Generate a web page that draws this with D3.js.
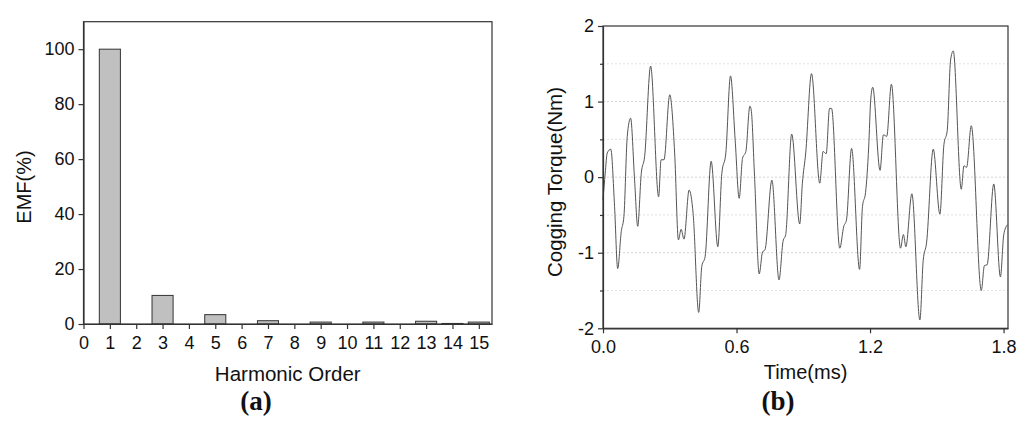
<!DOCTYPE html>
<html>
<head>
<meta charset="utf-8">
<script src="https://cdn.jsdelivr.net/npm/d3@7"></script>
<style>
  body { margin: 0; background: #fff; }
  svg text { font-family: "Liberation Sans", Arial, sans-serif; fill: #111; }
</style>
</head>
<body>
<svg id="fig" width="1024" height="427"></svg>
<script>
// (a) harmonic spectrum of the EMF
const harmonicOrders = [1, 2, 3, 4, 5, 6, 7, 8, 9, 10, 11, 12, 13, 14, 15];
const emfPercent = [100, 0, 10.4, 0, 3.4, 0, 1.2, 0, 0.7, 0, 0.7, 0, 1.0, 0.2, 0.7];
const harmonicTicks = d3.range(0, 16);
const emfTicks = [0, 20, 40, 60, 80, 100];

// (b) cogging torque waveform
const timeMs = [
  0.000, 0.010, 0.019, 0.035, 0.052, 0.066, 0.082, 0.094, 0.109, 0.124,
  0.142, 0.156, 0.172, 0.187, 0.214, 0.250, 0.261, 0.274, 0.300, 0.322,
  0.339, 0.351, 0.364, 0.387, 0.405, 0.430, 0.444, 0.459, 0.486, 0.516,
  0.534, 0.552, 0.573, 0.594, 0.612, 0.627, 0.642, 0.660, 0.666, 0.681,
  0.702, 0.717, 0.728, 0.759, 0.791, 0.809, 0.821, 0.848, 0.884, 0.896,
  0.911, 0.937, 0.974, 0.989, 1.003, 1.018, 1.027, 1.064, 1.082, 1.094,
  1.117, 1.153, 1.166, 1.180, 1.194, 1.203, 1.212, 1.245, 1.260, 1.275,
  1.296, 1.337, 1.350, 1.361, 1.388, 1.424, 1.439, 1.454, 1.484, 1.514,
  1.532, 1.547, 1.562, 1.574, 1.610, 1.622, 1.634, 1.655, 1.700, 1.714,
  1.726, 1.756, 1.786, 1.801, 1.817
];
const torqueNm = [
  -0.30, 0.05, 0.32, 0.37, -0.39, -1.21, -0.72, -0.52, 0.54, 0.78,
  -0.04, -0.65, 0.05, 0.27, 1.47, -0.26, 0.23, 0.23, 1.09, 0.32,
  -0.83, -0.69, -0.82, -0.17, -0.48, -1.79, -1.18, -1.05, 0.21, -0.92,
  0.05, 0.32, 1.34, 0.49, -0.28, 0.25, 0.34, 0.94, 0.89, 0.01,
  -1.28, -0.99, -0.96, -0.04, -1.36, -0.85, -0.76, 0.57, -0.62, -0.08,
  0.32, 1.37, -0.08, 0.34, 0.31, 0.91, 0.91, -0.94, -0.65, -0.57,
  0.38, -1.22, -0.39, -0.20, 0.40, 1.02, 1.19, 0.09, 0.56, 0.54,
  1.23, -0.94, -0.76, -0.92, -0.22, -1.89, -1.10, -0.87, 0.37, -0.49,
  0.43, 0.62, 1.55, 1.67, -0.16, 0.15, 0.13, 0.68, -1.50, -1.17,
  -1.16, -0.09, -1.32, -0.76, -0.63
];
const timeTicks = [0, 0.6, 1.2, 1.8];
const torqueTicks = [-2, -1, 0, 1, 2];
const torqueMinorTicks = [-1.5, -0.5, 0.5, 1.5];
const torqueGrid = [-1.5, -1, -0.5, 0, 0.5, 1, 1.5];

const svg = d3.select("#fig");

// ---------- chart (a) ----------
const a = { left: 83.5, right: 492, top: 21.7, bottom: 324 };

const xA = d3.scaleLinear().domain([0, 15.5]).range([a.left, a.right]);
const yA = d3.scaleLinear().domain([0, 110]).range([a.bottom, a.top]);

const gA = svg.append("g");

const barData = harmonicOrders.map((h, i) => ({ h, v: emfPercent[i] })).filter(d => d.v > 0);
const barW = xA(0.8) - xA(0);

gA.selectAll("rect.bar")
  .data(barData)
  .enter()
  .append("rect")
  .attr("class", "bar")
  .attr("x", d => xA(d.h) - barW / 2)
  .attr("y", d => yA(d.v))
  .attr("width", barW)
  .attr("height", d => yA(0) - yA(d.v))
  .attr("fill", "#c0c0c0")
  .attr("stroke", "#333")
  .attr("stroke-width", 1);

// frame
gA.append("rect")
  .attr("x", a.left)
  .attr("y", a.top)
  .attr("width", a.right - a.left)
  .attr("height", a.bottom - a.top)
  .attr("fill", "none")
  .attr("stroke", "#333")
  .attr("stroke-width", 1.2);

const xAxisA = gA.append("g")
  .attr("transform", `translate(0,${a.bottom})`)
  .call(d3.axisBottom(xA).tickValues(harmonicTicks).tickSize(5).tickSizeOuter(0).tickFormat(d => String(d)));
const yAxisA = gA.append("g")
  .attr("transform", `translate(${a.left},0)`)
  .call(d3.axisLeft(yA).tickValues(emfTicks).tickSize(5).tickSizeOuter(0).tickFormat(d => String(d)));

[xAxisA, yAxisA].forEach(ax => {
  ax.select(".domain").attr("stroke", "#333").attr("stroke-width", 1.2);
  ax.selectAll(".tick line").attr("stroke", "#333").attr("stroke-width", 1.2);
  ax.selectAll(".tick text").attr("font-size", "18px").attr("fill", "#111")
    .attr("font-family", "'Liberation Sans', Arial, sans-serif");
});
xAxisA.selectAll(".tick text").attr("dy", "0.95em");
yAxisA.selectAll(".tick text").attr("x", -9);

gA.append("text")
  .attr("x", (a.left + a.right) / 2)
  .attr("y", 381)
  .attr("text-anchor", "middle")
  .attr("font-size", "20.5px")
  .text("Harmonic Order");

gA.append("text")
  .attr("transform", `translate(31,${187}) rotate(-90)`)
  .attr("text-anchor", "middle")
  .attr("font-size", "20px")
  .text("EMF(%)");

gA.append("text")
  .attr("x", 256)
  .attr("y", 410)
  .attr("text-anchor", "middle")
  .attr("font-size", "27px")
  .attr("font-weight", "bold")
  .style("font-family", "'Liberation Serif', 'Times New Roman', serif")
  .text("(a)");

// ---------- chart (b) ----------
const b = { left: 603, right: 1008, top: 26, bottom: 328.3 };

const xB = d3.scaleLinear().domain([0, 1.82]).range([b.left, b.right]);
const yB = d3.scaleLinear().domain([-2, 2]).range([b.bottom, b.top]);

const gB = svg.append("g");

// dotted grid
gB.selectAll("line.grid")
  .data(torqueGrid)
  .enter()
  .append("line")
  .attr("class", "grid")
  .attr("x1", b.left)
  .attr("x2", b.right)
  .attr("y1", d => yB(d))
  .attr("y2", d => yB(d))
  .attr("stroke", d => Number.isInteger(d) ? "#d6d6d6" : "#e2e2e2")
  .attr("stroke-width", 1)
  .attr("stroke-dasharray", "2,2");

const torqueData = timeMs.map((t, i) => ({ t, v: torqueNm[i] }));

gB.append("path")
  .datum(torqueData)
  .attr("fill", "none")
  .attr("stroke", "#555")
  .attr("stroke-width", 1)
  .attr("d", d3.line()
    .x(d => xB(d.t))
    .y(d => yB(d.v))
    .curve(d3.curveMonotoneX));

gB.append("rect")
  .attr("x", b.left)
  .attr("y", b.top)
  .attr("width", b.right - b.left)
  .attr("height", b.bottom - b.top)
  .attr("fill", "none")
  .attr("stroke", "#333")
  .attr("stroke-width", 1.2);

const xAxisB = gB.append("g")
  .attr("transform", `translate(0,${b.bottom})`)
  .call(d3.axisBottom(xB).tickValues(timeTicks).tickSize(5).tickSizeOuter(0).tickFormat(d => d.toFixed(1)));
const yAxisB = gB.append("g")
  .attr("transform", `translate(${b.left},0)`)
  .call(d3.axisLeft(yB).tickValues(torqueTicks).tickSize(5).tickSizeOuter(0).tickFormat(d => String(d)));
const yMinorB = gB.append("g")
  .attr("transform", `translate(${b.left},0)`)
  .call(d3.axisLeft(yB).tickValues(torqueMinorTicks).tickSize(3).tickSizeOuter(0).tickFormat(""));
yMinorB.select(".domain").remove();

[xAxisB, yAxisB, yMinorB].forEach(ax => {
  ax.select(".domain").attr("stroke", "#333").attr("stroke-width", 1.2);
  ax.selectAll(".tick line").attr("stroke", "#333").attr("stroke-width", 1.2);
  ax.selectAll(".tick text").attr("font-size", "18px").attr("fill", "#111")
    .attr("font-family", "'Liberation Sans', Arial, sans-serif");
});
xAxisB.selectAll(".tick text").attr("dy", "0.95em");
yAxisB.selectAll(".tick text").attr("x", -9);

gB.append("text")
  .attr("x", (b.left + b.right) / 2)
  .attr("y", 379)
  .attr("text-anchor", "middle")
  .attr("font-size", "20px")
  .text("Time(ms)");

gB.append("text")
  .attr("transform", `translate(562,${182}) rotate(-90)`)
  .attr("text-anchor", "middle")
  .attr("font-size", "20.5px")
  .text("Cogging Torque(Nm)");

gB.append("text")
  .attr("x", 778)
  .attr("y", 410)
  .attr("text-anchor", "middle")
  .attr("font-size", "27px")
  .attr("font-weight", "bold")
  .style("font-family", "'Liberation Serif', 'Times New Roman', serif")
  .text("(b)");
</script>
</body>
</html>
